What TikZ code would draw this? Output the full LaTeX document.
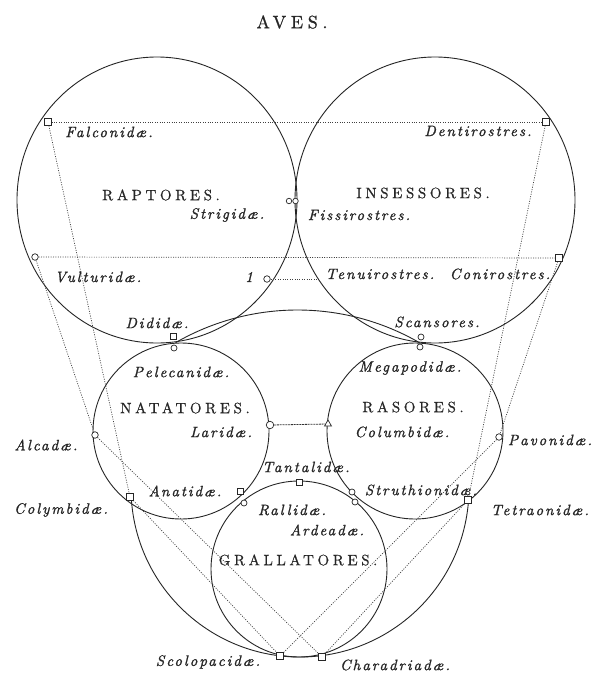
\documentclass[tikz,border=0pt]{standalone}
\usepackage{fontspec}
\usetikzlibrary{shapes.geometric,backgrounds}
\newfontfamily\lmcaps{lmroman10-regular}[Extension=.otf,LetterSpace=24,FakeBold=0.6]
\newfontfamily\lmtitle{lmroman10-regular}[Extension=.otf,LetterSpace=26,FakeBold=0.8]
\newfontfamily\lmital{lmroman10-italic}[Extension=.otf,LetterSpace=13,FakeBold=1.2]
\begin{document}
\begin{tikzpicture}[x=1pt,y=1pt,
  circ/.style={draw=black!85, line width=0.9pt},
  dots/.style={draw=black!75, line width=0.7pt, dash pattern=on 1pt off 1.4pt},
  dash2/.style={draw=black!80, line width=0.8pt, dash pattern=on 2pt off 0.8pt},
  mk/.style={draw=black!85, fill=white, line width=0.7pt, inner sep=0pt, minimum size=6.5pt},
  mkc/.style={mk, circle},
  mks/.style={mk, rectangle},
  mkt/.style={mk, regular polygon, regular polygon sides=3, minimum size=8pt},
  caps/.style={font=\lmcaps\fontsize{15}{16}\selectfont, text=black!85, inner sep=0pt},
  ttl/.style={font=\lmtitle\fontsize{18}{19}\selectfont, text=black!85, inner sep=0pt},
  ital/.style={font=\lmital\fontsize{15}{16}\selectfont, text=black!85, inner sep=0pt}]
\useasboundingbox (0,0) rectangle (596,-675);

% markers
\node[mks] (falc) at (48,-122) {};
\node[mks] (dent) at (546,-122) {};
\node[mkc, minimum size=5.5pt] (strig) at (289,-201) {};
\node[mkc, minimum size=5.5pt] (fiss) at (295.5,-201) {};
\node[mkc] (vult) at (35,-257) {};
\node[mks] (coni) at (559,-258) {};
\node[mkc] (one) at (267,-279) {};
\coordinate (tenu) at (318,-279);
\node[mks, minimum size=6pt] (didA) at (173,-336) {};
\node[mkc, minimum size=6pt] (didB) at (174,-348) {};
\node[mkc, minimum size=6pt] (scanA) at (421,-337) {};
\node[mkc, minimum size=6pt] (scanB) at (420,-347) {};
\node[mkc, minimum size=7.5pt] (lari) at (270,-425) {};
\node[mkt] (colu) at (328,-424) {};
\node[mkc] (alca) at (95,-435) {};
\node[mkc] (pavo) at (499,-437) {};
\node[mks] (colym) at (130,-497) {};
\node[mks] (tetra) at (468,-500) {};
\node[mks, minimum size=6pt] (anatA) at (240,-491) {};
\node[mkc, minimum size=6pt] (anatB) at (244,-503) {};
\node[mkc, minimum size=6pt] (struA) at (352,-492) {};
\node[mkc, minimum size=6pt] (struB) at (355,-502) {};
\node[mks, minimum size=6pt] (tant) at (299,-482) {};
\node[mks] (scol) at (280,-656) {};
\node[mks] (char) at (322,-657) {};

\begin{pgfonlayer}{background}
\fill[white] (0,0) rectangle (596,-675);
% circles
\draw[circ] (157,-200) ellipse [x radius=140, y radius=143];
\draw[circ] (435,-200) ellipse [x radius=140, y radius=143];
\draw[circ] (181,-431) circle [radius=88];
\draw[circ] (415,-431) circle [radius=88];
\draw[circ] (299,-569) circle [radius=88];
\draw[circ] (300,-488) ++(183:169) arc[start angle=183, end angle=356, radius=169];
\draw[circ] (297.5,-554) ++(120:244) arc[start angle=120, end angle=60, radius=244];
% dotted connectors
\draw[dots] (falc) -- (dent);
\draw[dots] (vult) -- (coni);
\draw[dots] (one) -- (tenu);
\draw[dash2] (lari) -- (colu);
\draw[dots] (falc) -- (colym);
\draw[dots] (dent) -- (tetra);
\draw[dots] (vult) -- (alca);
\draw[dots] (coni) -- (pavo);
\draw[dots] (alca) -- (char);
\draw[dots] (pavo) -- (scol);
\draw[dots] (colym) -- (scol);
\draw[dots] (tetra) -- (char);
\end{pgfonlayer}

% labels
\node[ttl] (t-aves) at (292,-22) {AVES.};
\node[caps] (t-rap) at (161,-195) {RAPTORES.};
\node[caps] (t-ins) at (423,-193) {INSESSORES.};
\node[caps] (t-nat) at (185,-408) {NATATORES.};
\node[caps] (t-ras) at (413,-407) {RASORES.};
\node[caps] (t-gra) at (298,-560) {GRALLATORES.};
\node[ital] (t-falc) at (109,-132) {Falconidæ.};
\node[ital] (t-dent) at (478,-131) {Dentirostres.};
\node[ital] (t-strig) at (227,-215) {Strigidæ.};
\node[ital] (t-fiss) at (359,-215) {Fissirostres.};
\node[ital] (t-vult) at (98,-277) {Vulturidæ.};
\node[ital] (t-one) at (249,-277) {1};
\node[ital] (t-tenu) at (380,-274) {Tenuirostres.};
\node[ital] (t-coni) at (500,-274) {Conirostres.};
\node[ital] (t-did) at (157,-323) {Dididæ.};
\node[ital] (t-scan) at (437,-322) {Scansores.};
\node[ital] (t-pel) at (181,-372) {Pelecanidæ.};
\node[ital] (t-meg) at (410,-368) {Megapodidæ.};
\node[ital] (t-lari) at (221,-432) {Laridæ.};
\node[ital] (t-colu) at (402,-432) {Columbidæ.};
\node[ital] (t-alca) at (46,-445) {Alcadæ.};
\node[ital] (t-pavo) at (550,-440) {Pavonidæ.};
\node[ital] (t-tant) at (306,-467) {Tantalidæ.};
\node[ital] (t-anat) at (185,-491) {Anatidæ.};
\node[ital] (t-stru) at (421,-490) {Struthionidæ.};
\node[ital] (t-colym) at (61,-510) {Colymbidæ.};
\node[ital] (t-tetra) at (540,-510) {Tetraonidæ.};
\node[ital] (t-rall) at (292,-510) {Rallidæ.};
\node[ital] (t-ard) at (327,-530) {Ardeadæ.};
\node[ital] (t-scol) at (208,-662) {Scolopacidæ.};
\node[ital] (t-char) at (395,-665) {Charadriadæ.};
\end{tikzpicture}
\end{document}
